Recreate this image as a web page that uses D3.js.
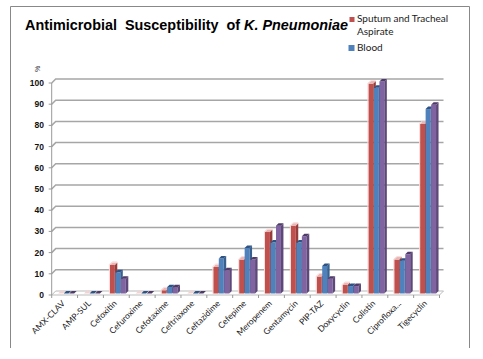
<!DOCTYPE html>
<html><head><meta charset="utf-8">
<script src="https://cdn.jsdelivr.net/npm/d3@7/dist/d3.min.js"></script>
<style>html,body{margin:0;padding:0;background:#fff;}svg{display:block;}</style>
</head><body>
<svg id="c" width="483" height="359"></svg>
<script>
const categories = ["AMX-CLAV","AMP-SUL","Cefoxitin","Cefuroxime","Cefotaxime","Ceftriaxone","Ceftazidime","Cefepime","Meropenem","Gentamycin","PIP-TAZ","Doxycyclin","Colistin","Ciprofloxa...","Tigecyclin"];
const sputum = [0,0,13.5,0,1.5,0,12.5,16,29,32,8,4,99,16,80];
const blood  = [0,0,10,0,3,0,16.5,21.5,24,24,13,3.5,97,15.5,87];
const other  = [0,0,7,0,3,0,11,16,32,27,7,3.5,100,18.5,89];
const yTicks = [0,10,20,30,40,50,60,70,80,90,100];
const seriesNames = ["Sputum and Tracheal Aspirate","Blood"];

const svg = d3.select("#c");
const D = 4; // wall depth
const x = d3.scaleBand().domain(categories).range([51.7, 439.5]);
const y = d3.scaleLinear().domain([0,100]).range([295, 83]);

// outer border (top, left, right)
svg.append("path").attr("d","M10.5,348V6.5H469.5V348").attr("fill","none").attr("stroke","#888").attr("stroke-width",1);

// title
const t = svg.append("text").attr("x",25).attr("y",30).style("font-family","'Liberation Sans',Arial,sans-serif")
  .style("font-weight","bold").style("font-size","14.4px").style("white-space","pre").attr("fill","#000");
t.append("tspan").text("Antimicrobial  Susceptibility  of ");
t.append("tspan").style("font-style","italic").text("K. Pneumoniae");

// legend
const legColors = ["#c0504d","#4f81bd"];
const lg = svg.append("g").style("font-family","Lato,'Open Sans',sans-serif").style("font-size","10px").attr("fill","#222");
lg.append("rect").attr("x",349.5).attr("y",17).attr("width",5).attr("height",5).attr("fill",legColors[0]);
lg.append("text").attr("x",357).attr("y",22).text(seriesNames[0].replace(" Aspirate",""));
lg.append("text").attr("x",357).attr("y",35).text("Aspirate");
lg.append("rect").attr("x",348.5).attr("y",45).attr("width",6).attr("height",6).attr("fill",legColors[1]);
lg.append("text").attr("x",357).attr("y",51).text(seriesNames[1]);

// % label
svg.append("text").attr("transform","translate(40,69) rotate(-90)").attr("text-anchor","middle")
  .style("font-family","'Liberation Sans',Arial,sans-serif").style("font-size","7px").attr("fill","#333").text("%");

const x0 = x.range()[0], x1 = x.range()[1];
// floor
svg.append("path").attr("d",`M${x0},${y(0)}L${x0+D},${y(0)-D}L${x1+D},${y(0)-D}L${x1},${y(0)}Z`)
  .attr("fill","#fff").attr("stroke","#bbb").attr("stroke-width",1);
// gridlines
yTicks.forEach(v=>{
  if(v===0) return;
  svg.append("path").attr("d",`M${x0},${y(v)}L${x0+D},${y(v)-D}H${x1+D}`)
    .attr("fill","none").attr("stroke","#a6a6a6").attr("stroke-width",1.5);
});
// left wall axis line
svg.append("line").attr("x1",x0).attr("x2",x0).attr("y1",y(100)).attr("y2",y(0)).attr("stroke","#999").attr("stroke-width",1);
// y tick marks and labels
yTicks.forEach(v=>{
  svg.append("line").attr("x1",x0-3).attr("x2",x0).attr("y1",y(v)).attr("y2",y(v)).attr("stroke","#999");
  svg.append("text").attr("x",44).attr("y",y(v)+3).attr("text-anchor","end")
    .style("font-family","'Liberation Sans',Arial,sans-serif").style("font-weight","bold").style("font-size","8.5px")
    .attr("fill","#111").text(v);
});
// x tick marks
categories.forEach((c,i)=>{
  const xx = x(c);
  svg.append("line").attr("x1",xx).attr("x2",xx).attr("y1",y(0)).attr("y2",y(0)+3).attr("stroke","#999");
});
svg.append("line").attr("x1",x1).attr("x2",x1).attr("y1",y(0)).attr("y2",y(0)+3).attr("stroke","#999");

// bars
const bw = x.bandwidth();
const barW = bw*0.19, d = 2.5, base = y(0)-1.5;
const series = [
  {vals:sputum, front:"#c0504d", side:"#963d3b", top:"#eab6b4", stroke:"#f6dcdb"},
  {vals:blood,  front:"#4f81bd", side:"#37608f", top:"#2d5283", stroke:null},
  {vals:other,  front:"#8064a2", side:"#5e4879", top:"#4f3b69", stroke:null}
];
series.forEach((s,si)=>{
  const g = svg.append("g");
  categories.forEach((c,i)=>{
    const bx = x(c) + bw*0.25 + si*(barW+0.6);
    const v = s.vals[i];
    const top = Math.min(y(v)-1.5, base);
    if (base-top > 0.1) {
      g.append("rect").attr("x",bx).attr("y",top).attr("width",barW).attr("height",base-top).attr("fill",s.front);
      g.append("path").attr("d",`M${bx+barW},${top}L${bx+barW+d},${top-d}L${bx+barW+d},${base-d}L${bx+barW},${base}Z`).attr("fill",s.side);
    }
    g.append("path").attr("d",`M${bx},${top}L${bx+d},${top-d}L${bx+barW+d},${top-d}L${bx+barW},${top}Z`)
      .attr("fill", (v===0 && si===0) ? "#f3d3d2" : s.top);
    if (s.stroke && v>0) {
      g.append("path").attr("d",`M${bx-0.5},${base}V${top-0.5}L${bx+d},${top-d-0.5}H${bx+barW+d}`)
        .attr("fill","none").attr("stroke",s.stroke).attr("stroke-width",1);
    }
  });
});

// x labels
categories.forEach(c=>{
  const cx = x(c)+bw/2+1;
  svg.append("text").attr("transform",`translate(${cx},${304}) rotate(-45)`).attr("text-anchor","end")
    .style("font-family","Lato,'Open Sans',sans-serif").style("font-size","8.5px").attr("fill","#222").text(c);
});
</script>
</body></html>
